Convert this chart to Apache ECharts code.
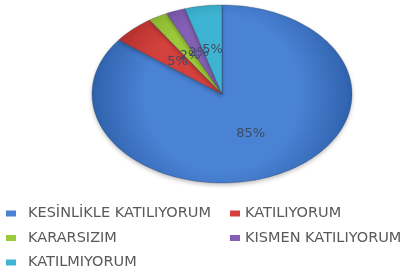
<!DOCTYPE html>
<html>
<head>
<meta charset="utf-8">
<script src="https://cdn.jsdelivr.net/npm/echarts@6/dist/echarts.min.js"></script>
<style>
  html, body { margin: 0; padding: 0; background: #fff; }
  #chart { width: 417px; height: 270px; }
</style>
</head>
<body>
<div id="chart"></div>
<script>
// answer categories and their share (%)
const categories = ['KESİNLİKLE KATILIYORUM', 'KATILIYORUM', 'KARARSIZIM', 'KISMEN KATILIYORUM', 'KATILMIYORUM']
const shares = [85.4, 5.2, 2.4, 2.4, 4.6]
const colors = ['#4a82d4', '#d4413d', '#9cc93a', '#8460b4', '#3eb4d2']
const edgeColors = ['#2f62ad', '#a82a28', '#76a024', '#5e3f8c', '#2488a6']

const chart = echarts.init(document.getElementById('chart'))

// cumulative start / end of each slice
let acc = 0
const slices = shares.map((v) => {
  const s = acc
  acc += v
  return [s, acc, v]
})

const LABEL_POS = 0.5

const renderSlice = (idx) => (params, api) => {
  const s = api.value(0)
  const e = api.value(1)
  const v = api.value(2)
  const c = api.coord([0, 0])
  const size = api.size([1, 1])
  const rx = size[0], ry = size[1]
  const pts = [c]
  const n = Math.max(4, Math.ceil((e - s) * 2))
  for (let i = 0; i <= n; i++) {
    const t = 2 * Math.PI * (s + (e - s) * i / n) / 100
    pts.push([c[0] + rx * Math.sin(t), c[1] - ry * Math.cos(t)])
  }
  const tm = 2 * Math.PI * ((s + e) / 2) / 100
  return {
    type: 'group',
    children: [
      {
        type: 'polygon',
        shape: { points: pts },
        style: {
          fill: new echarts.graphic.RadialGradient(c[0], c[1], rx, [
            { offset: 0, color: colors[idx] },
            { offset: 0.6, color: colors[idx] },
            { offset: 1, color: edgeColors[idx] }
          ], true),
          stroke: 'rgba(30,40,60,0.45)',
          lineWidth: 0.6,
          shadowColor: 'rgba(0,0,0,0.25)',
          shadowBlur: 4,
          shadowOffsetY: 2
        }
      },
      {
        type: 'text',
        z2: 100,
        style: {
          text: Math.round(v) + '%',
          x: c[0] + rx * LABEL_POS * Math.sin(tm),
          y: c[1] - ry * LABEL_POS * Math.cos(tm),
          fill: '#3e4a66',
          fontSize: 13,
          fontFamily: 'DejaVu Sans',
          align: 'center',
          verticalAlign: 'middle'
        }
      }
    ]
  }
}

const legendStyle = (gap) => ({
  orient: 'vertical',
  top: 206,
  height: 64,
  padding: 0,
  itemWidth: 10,
  itemHeight: 6,
  itemGap: 9.5,
  icon: 'rect',
  textStyle: { color: '#595959', fontSize: 14.5, fontFamily: 'DejaVu Sans', lineHeight: 15, padding: [0, 0, 0, gap] }
})

chart.setOption({
  animation: false,
  grid: { left: 92, top: 5, width: 260, height: 178 },
  xAxis: { type: 'value', min: -1, max: 1, show: false },
  yAxis: { type: 'value', min: -1, max: 1, show: false },
  legend: [
    Object.assign({ left: 6, data: [categories[0], categories[2], categories[4]] }, legendStyle(7)),
    Object.assign({ left: 230, data: [categories[1], categories[3]] }, legendStyle(0))
  ],
  series: categories.map((name, i) => ({
    type: 'custom',
    name,
    itemStyle: { color: colors[i] },
    renderItem: renderSlice(i),
    data: [slices[i]]
  }))
})
</script>
</body>
</html>
